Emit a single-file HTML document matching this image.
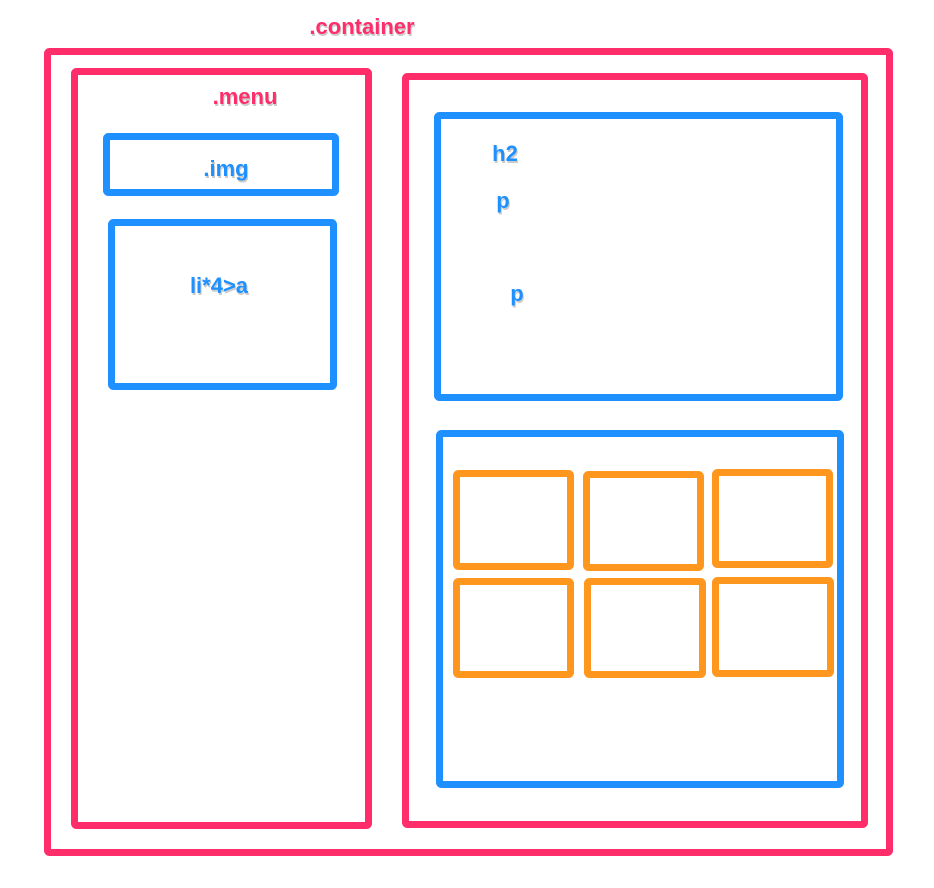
<!DOCTYPE html>
<html><head><style>
html,body{margin:0;padding:0;background:#fff;}
svg{display:block}
text{font-family:"Liberation Sans",sans-serif;font-weight:bold;font-size:22px;}
.r{fill:#ff2d6a;} .b{fill:#1e90ff;}
.sh{fill:#999;opacity:.5}
</style></head><body>
<svg width="934" height="888" viewBox="0 0 934 888" xmlns="http://www.w3.org/2000/svg">
<g fill="none" stroke-width="7" stroke-linejoin="round">
<rect x="47.5" y="51.5" width="842" height="801" rx="2" stroke="#ff2d6a"/>
<rect x="74.5" y="71.5" width="294" height="754" rx="2" stroke="#ff2d6a"/>
<rect x="405.5" y="76.5" width="459" height="748" rx="2" stroke="#ff2d6a"/>
<rect x="106.5" y="136.5" width="229" height="56" rx="2" stroke="#1e90ff"/>
<rect x="111.5" y="222.5" width="222" height="164" rx="2" stroke="#1e90ff"/>
<rect x="437.5" y="115.5" width="402" height="282" rx="2" stroke="#1e90ff"/>
<rect x="439.5" y="433.5" width="401" height="351" rx="2" stroke="#1e90ff"/>
<g stroke="#ff961e">
<rect x="456.5" y="473.5" width="114" height="93" rx="2"/>
<rect x="586.5" y="474.5" width="114" height="93" rx="2"/>
<rect x="715.5" y="472.5" width="114" height="92" rx="2"/>
<rect x="456.5" y="581.5" width="114" height="93" rx="2"/>
<rect x="587.5" y="581.5" width="115" height="93" rx="2"/>
<rect x="715.5" y="580.5" width="115" height="93" rx="2"/>
</g>
</g>
<g text-anchor="middle">
<text class="sh" x="363" y="36">.container</text><text class="r" x="362" y="34">.container</text>
<text class="sh" x="246" y="106">.menu</text><text class="r" x="245" y="104">.menu</text>
<text class="sh" x="227" y="178">.img</text><text class="b" x="226" y="176">.img</text>
<text class="sh" x="220" y="295">li*4&gt;a</text><text class="b" x="219" y="293">li*4&gt;a</text>
<text class="sh" x="506" y="163">h2</text><text class="b" x="505" y="161">h2</text>
<text class="sh" x="504" y="210">p</text><text class="b" x="503" y="208">p</text>
<text class="sh" x="518" y="303">p</text><text class="b" x="517" y="301">p</text>
</g>
</svg>
</body></html>
